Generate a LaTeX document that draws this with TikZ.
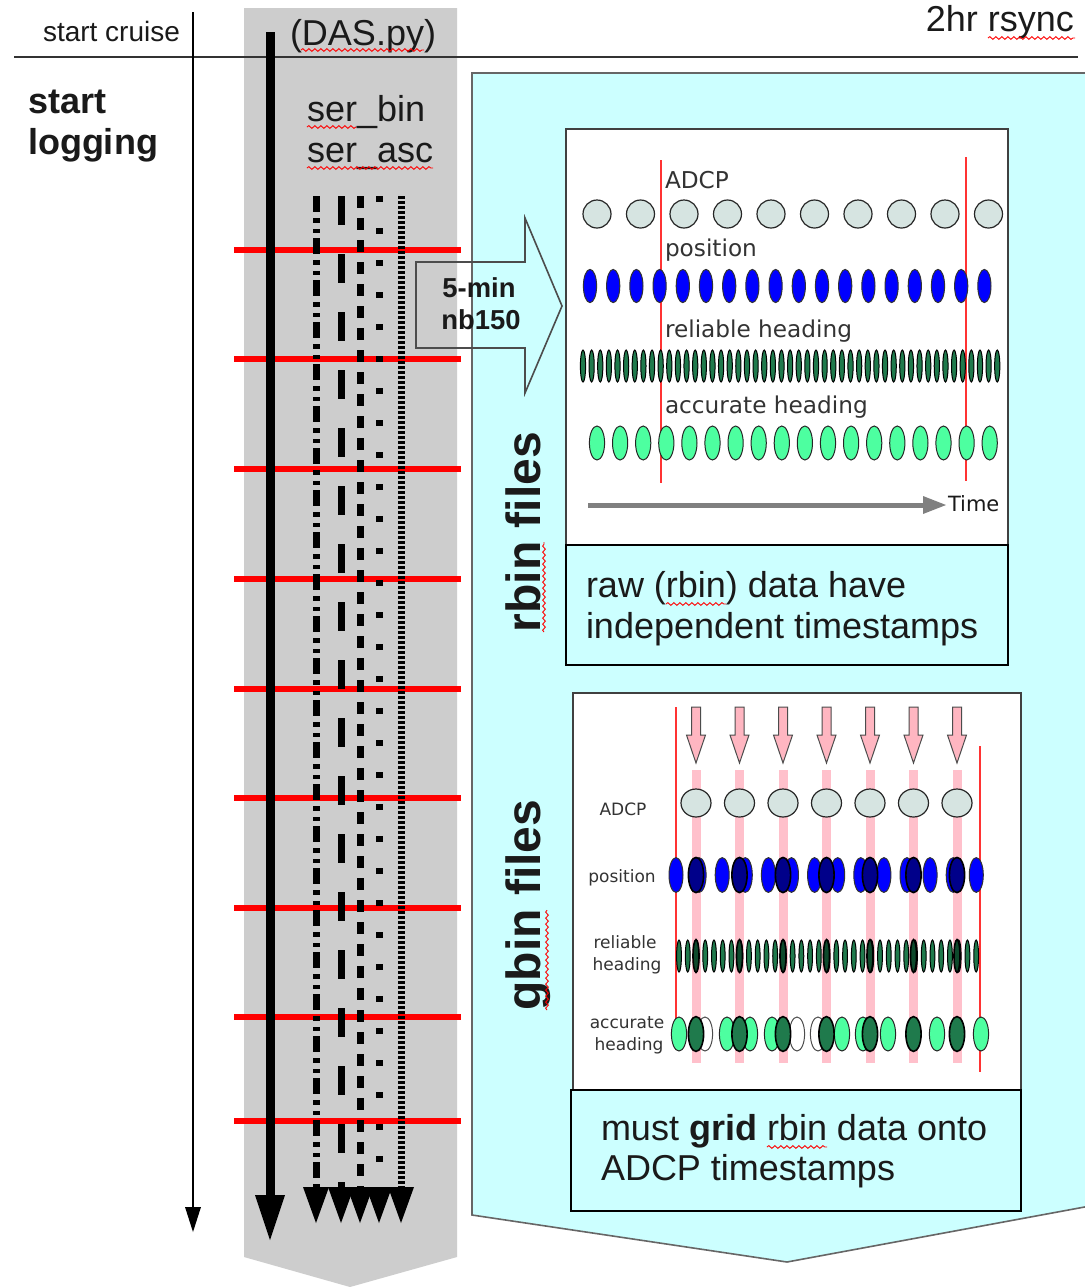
\documentclass[tikz,border=0pt]{standalone}
\usepackage{fontspec}
\setmainfont{Liberation Sans}
\newfontfamily\dejavu{DejaVu Sans}
\usetikzlibrary{decorations.pathmorphing}
\definecolor{cyanfill}{HTML}{CCFFFF}
\definecolor{colgray}{HTML}{CDCDCD}
\definecolor{adcpfill}{HTML}{D6E4E1}
\definecolor{posblue}{HTML}{0000FF}
\definecolor{posdark}{HTML}{00008A}
\definecolor{relgreen}{HTML}{1F7A4C}
\definecolor{reldark}{HTML}{0E4A2C}
\definecolor{accgreen}{HTML}{4DFFA0}
\definecolor{accdark}{HTML}{1F7A4C}
\definecolor{pinkband}{HTML}{FFC0CB}
\definecolor{pinkarrow}{HTML}{FFB6C1}
\definecolor{txt}{HTML}{1A1A1A}
\definecolor{lbl}{HTML}{333333}
\definecolor{redline}{HTML}{FF3333}
\begin{document}
\begin{tikzpicture}[x=0.5pt,y=-0.5pt,
  every node/.style={inner sep=0pt, outer sep=0pt},
  bigtxt/.style={font=\fontsize{18}{21}\selectfont, text=txt},
  paneltxt/.style={font=\dejavu\fontsize{11.6}{14}\selectfont, text=lbl},
  smalltxt/.style={font=\dejavu\fontsize{8.5}{11}\selectfont, text=lbl},
  redrule/.style={red, line width=3pt},
  lane/.style={line width=3.5pt},
  panelbox/.style={draw=black!75, line width=0.9pt, fill=white},
  capbox/.style={draw=black, line width=1.3pt, fill=cyanfill},
  adcpdot/.style={draw=black!85, line width=0.6pt, fill=adcpfill},
  posdot/.style={draw=black!80, line width=0.5pt, fill=posblue},
  posdk/.style={draw=black, line width=0.8pt, fill=posdark},
  reldot/.style={draw=black, line width=0.5pt, fill=relgreen},
  reldk/.style={draw=black, line width=0.8pt, fill=reldark},
  accdot/.style={draw=black!85, line width=0.5pt, fill=accgreen},
  accdk/.style={draw=black, line width=0.8pt, fill=accdark},
  accwhite/.style={draw=black!70, line width=0.5pt, fill=white, fill opacity=0},
  bound/.style={redline, line width=0.6pt},
  spell/.style={red, line width=0.45pt, decorate, decoration={snake, segment length=3pt, amplitude=0.7pt}}
]
\useasboundingbox (0,0) rectangle (1084,1287);
\fill[white] (0,0) rectangle (1084,1287);

% gray DAS column
\fill[colgray] (244,8) -- (457,8) -- (457,1257) -- (350,1287) -- (244,1257) -- cycle;

% cyan rsync region
\filldraw[fill=cyanfill, draw=black!60, line width=0.8pt] (1090,73) -- (472,73) -- (472,1215) -- (787,1262) -- (1090,1206);

% top rule
\draw[line width=0.7pt, black!80] (14,57) -- (1078,57);

% thin time arrow
\coordinate (ct) at (193,12);
\coordinate (cb) at (193,1210);
\draw[line width=0.8pt] (ct) -- (cb);
\fill (185,1207) -- (201,1207) -- (193,1232) -- cycle;

% red 5-min boundaries
\foreach \yy in {250,359,469,579,689,798,908,1017,1121}
  \draw[redrule] (234,\yy) -- (461,\yy);

% thick logging arrow
\coordinate (lt) at (270,32);
\coordinate (lb) at (270,1198);
\draw[line width=4.5pt] (lt) -- (lb);
\fill (255,1195) -- (285,1195) -- (270,1240) -- cycle;

% data streams
\coordinate (a1) at (316,196); \coordinate (a2) at (316,1192);
\coordinate (b1) at (341,196); \coordinate (b2) at (341,1192);
\coordinate (c1) at (360,196); \coordinate (c2) at (360,1192);
\coordinate (d1) at (379,196); \coordinate (d2) at (379,1192);
\coordinate (e1) at (401,196); \coordinate (e2) at (401,1192);
\draw[lane, dash pattern=on 8pt off 3pt on 2.5pt off 3pt on 2pt off 2.5pt] (a1) -- (a2);
\draw[lane, dash pattern=on 14.5pt off 14.5pt] (b1) -- (b2);
\draw[lane, dash pattern=on 6pt off 5pt] (c1) -- (c2);
\draw[lane, dash pattern=on 3pt off 13pt] (d1) -- (d2);
\draw[lane, dash pattern=on 1.5pt off 1pt] (e1) -- (e2);
\foreach \xx in {316,341,360,379,401}
  \fill ({\xx-13},1187) -- ({\xx+13},1187) -- (\xx,1223) -- cycle;

% texts left
\node[anchor=base west, font=\fontsize{14}{16}\selectfont, text=txt] (sc) at (43,41) {start cruise};
\node[anchor=base west, font=\bfseries\fontsize{18}{21}\selectfont, text=txt] (sl1) at (28,113) {start};
\node[anchor=base west, font=\bfseries\fontsize{18}{21}\selectfont, text=txt] (sl2) at (28,154) {logging};
\node[bigtxt, anchor=base west] (das) at (290,45) {(DAS.py)};
\node[bigtxt, anchor=base west] (sb) at (307,121) {ser\_bin};
\node[bigtxt, anchor=base west] (sa) at (307,162) {ser\_asc};
\node[bigtxt, anchor=base east] (rs) at (1074,31) {2hr rsync};
\draw[spell] (301,50) -- (424,50);
\draw[spell] (307,127) -- (356,127);
\draw[spell] (307,168) -- (433,168);
\draw[spell] (988,38) -- (1075,38);

% 5-min block arrow
\draw[draw=black!70, line width=0.8pt] (416,262) -- (525,262) -- (525,218) -- (562,306) -- (525,393) -- (525,348) -- (416,348) -- cycle;
\node[anchor=base, font=\bfseries\fontsize{13.7}{16}\selectfont, text=txt] (fm) at (479,297) {5-min};
\node[anchor=base, font=\bfseries\fontsize{13.7}{16}\selectfont, text=txt] (nb) at (481,329) {nb150};

% rotated labels
\node[rotate=90, anchor=base, font=\bfseries\fontsize{24}{28}\selectfont, text=txt] (rf) at (540,532) {rbin files};
\node[rotate=90, anchor=base, font=\bfseries\fontsize{24}{28}\selectfont, text=txt] (gf) at (540,905) {gbin files};
\draw[spell] (544,632) -- (544,542);
\draw[spell] (547,1010) -- (547,910);

% ---------- rbin panel ----------
\draw[panelbox] (566,129) rectangle (1008,545);
\draw[bound] (661,160) -- (661,483);
\draw[bound] (966,157) -- (966,481);
\node[paneltxt, anchor=base west] (l1) at (665,188) {ADCP};
\node[paneltxt, anchor=base west] (l2) at (665,256) {position};
\node[paneltxt, anchor=base west] (l3) at (665,337) {reliable heading};
\node[paneltxt, anchor=base west] (l4) at (665,413) {accurate heading};
\foreach \k in {0,...,9}
  \draw[adcpdot] ({597+43.5*\k},214) ellipse [x radius=7pt, y radius=7pt];
\foreach \k in {0,...,17}
  \draw[posdot] ({590+23.2*\k},286) ellipse [x radius=3.3pt, y radius=8.3pt];
\foreach \k in {0,...,48}
  \draw[reldot] ({583+8.63*\k},366) ellipse [x radius=1.3pt, y radius=8pt];
\foreach \k in {0,...,17}
  \draw[accdot] ({597+23.1*\k},443) ellipse [x radius=3.8pt, y radius=8.5pt];
\coordinate (t1) at (588,505);
\coordinate (t2) at (926,505);
\draw[gray, line width=2.5pt] (t1) -- (t2);
\fill[gray] (923,496) -- (946,505) -- (923,514) -- cycle;
\node[font=\dejavu\fontsize{10.5}{12}\selectfont, text=txt, anchor=base west] (tm) at (948,511) {Time};

\draw[capbox] (566,545) rectangle (1008,665);
\node[bigtxt, anchor=base west] (c1a) at (586,597) {raw (rbin) data have};
\node[bigtxt, anchor=base west] (c1b) at (586,638) {independent timestamps};
\draw[spell] (666,604) -- (726,604);

% ---------- gbin panel ----------
\draw[panelbox] (573,693) rectangle (1021,1090);
\foreach \xx in {696,739.5,783,826.5,870,913.5,957}
  \fill[pinkband] ({\xx-4.5},770) rectangle ({\xx+4.5},1063);
\draw[bound] (676,707) -- (676,1050);
\draw[bound] (980,746) -- (980,1072);
\foreach \xx in {696,739.5,783,826.5,870,913.5,957}
  \filldraw[fill=pinkarrow, draw=black!70, line width=0.5pt]
    ({\xx-4.5},707) -- ({\xx+4.5},707) -- ({\xx+4.5},735) -- ({\xx+9.5},735) -- (\xx,763) -- ({\xx-9.5},735) -- ({\xx-4.5},735) -- cycle;
\node[smalltxt, anchor=base] (g1) at (623,815) {ADCP};
\node[smalltxt, anchor=base] (g2) at (622,882) {position};
\node[smalltxt, anchor=base] (g3) at (625,948) {reliable};
\node[smalltxt, anchor=base] (g4) at (627,970) {heading};
\node[smalltxt, anchor=base] (g5) at (627,1028) {accurate};
\node[smalltxt, anchor=base] (g6) at (629,1050) {heading};
\foreach \xx in {696,739.5,783,826.5,870,913.5,957}
  \draw[adcpdot] (\xx,803) ellipse [x radius=7.5pt, y radius=7pt];
\foreach \k in {0,...,13}
  \draw[posdot] ({676+23.1*\k},875) ellipse [x radius=3.5pt, y radius=8.7pt];
\foreach \xx in {696,739.5,783,826.5,870,913.5,957}
  \draw[posdk] (\xx,875) ellipse [x radius=3.8pt, y radius=8.8pt];
\foreach \k in {0,...,34}
  \draw[reldot] ({679+8.74*\k},956) ellipse [x radius=1.2pt, y radius=8pt];
\foreach \xx in {696,739.5,783,826.5,870,913.5,957}
  \draw[reldk] (\xx,956) ellipse [x radius=1.5pt, y radius=8.2pt];
\foreach \xx in {705,797,818}
  \draw[accwhite] (\xx,1034) ellipse [x radius=3.8pt, y radius=8.5pt];
\foreach \xx in {679,727,750,772,842,863,888,937,981}
  \draw[accdot] (\xx,1034) ellipse [x radius=3.8pt, y radius=8.5pt];
\foreach \xx in {696,739.5,783,826.5,870,913.5,957}
  \draw[accdk] (\xx,1034) ellipse [x radius=3.8pt, y radius=8.7pt];

\draw[capbox] (571,1090) rectangle (1021,1211);
\node[bigtxt, anchor=base west] (c2a) at (601,1140) {must \textbf{grid} rbin data onto};
\node[bigtxt, anchor=base west] (c2b) at (601,1180) {ADCP timestamps};
\draw[spell] (767,1147) -- (827,1147);
\end{tikzpicture}
\end{document}
